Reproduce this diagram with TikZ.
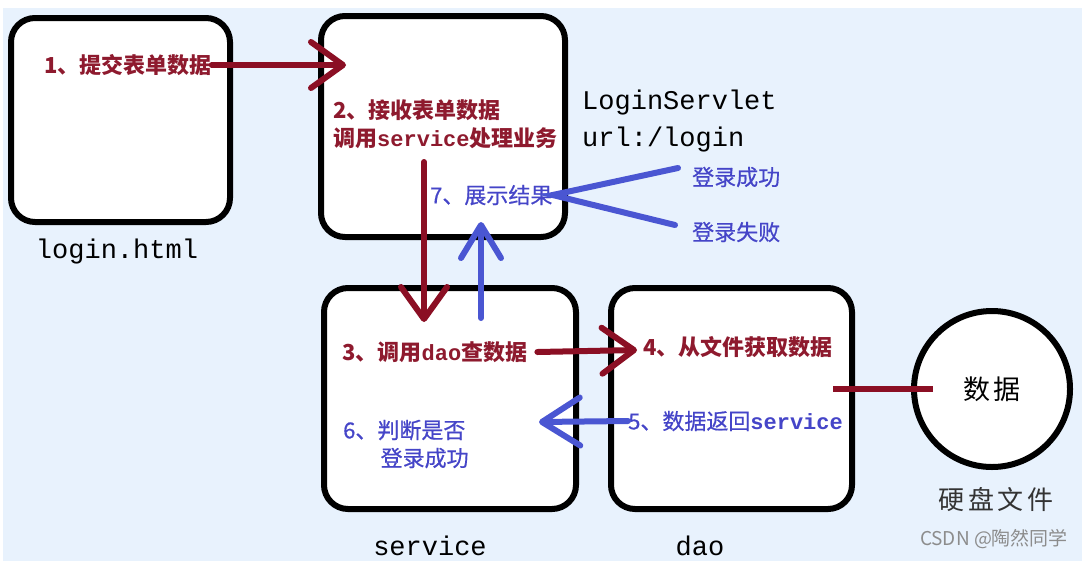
\documentclass[tikz,border=0pt]{standalone}
\usepackage{fontspec}
\setmainfont{Liberation Mono}
\newfontfamily\cjk{Noto Sans CJK SC}
\newfontfamily\monob{Liberation Mono}
\usetikzlibrary{arrows.meta}

\definecolor{flowred}{HTML}{8B0F24}
\definecolor{flowblue}{HTML}{4A56D2}
\definecolor{lblred}{HTML}{8E1A2E}
\definecolor{lblblue}{HTML}{4545C8}
\definecolor{bgblue}{HTML}{E8F2FD}

\tikzset{
  panel/.style={draw, line width=6pt, rounded corners=24pt, fill=white, inner sep=0pt},
  redlbl/.style={text=lblred, font=\cjk\bfseries\fontsize{22}{28}\selectfont, inner sep=0pt, anchor=west, align=left},
  bluelbl/.style={text=lblblue, font=\cjk\fontsize{22}{28}\selectfont\addfontfeature{FakeBold=0.6}, inner sep=0pt, anchor=west, align=left},
  caption/.style={font=\fontsize{27}{37}\selectfont, inner sep=0pt, align=left},
  redflow/.style={draw=flowred, line width=6pt, line cap=round, -{Straight Barb[length=32pt, width=46pt, round]}},
  blueflow/.style={draw=flowblue, line width=6pt, line cap=round, -{Straight Barb[length=33pt, width=40pt, round]}},
}

\begin{document}
\begin{tikzpicture}[x=1pt, y=-1pt]
    \useasboundingbox (0,0) rectangle (1089,574);
    \fill[bgblue] (3,8) rectangle (1082,561);

    % the four parts and the file on disk
    \node[panel, minimum width=219pt, minimum height=204pt] (page) at (120.5,120) {};
    \node[panel, minimum width=244pt, minimum height=221pt] (servlet) at (443,126.5) {};
    \node[panel, minimum width=252pt, minimum height=221pt] (service) at (450,398.5) {};
    \node[panel, minimum width=241pt, minimum height=221pt] (dao) at (731.5,398.5) {};
    \node[draw, line width=6pt, circle, fill=white, minimum size=156pt, inner sep=0pt,
          font=\cjk\fontsize{27}{30}\selectfont\addfontfeature{LetterSpace=10}] (disk) at (992,389) {数据};

    \node[caption] (pagename) at (117,252) {login.html};
    \node[caption, anchor=west] (servletname) at (582,121) {LoginServlet\\url:/login};
    \node[caption] (svcname) at (430,546) {service};
    \node[caption] (daoname) at (700,546) {dao};
    \node[font=\cjk\fontsize{26}{30}\selectfont\addfontfeature{LetterSpace=15}, text=black!80, inner sep=0pt] (diskname) at (996,500) {硬盘文件};
    \node[font=\cjk\fontsize{19}{21}\selectfont, text=black!45, inner sep=0pt] (mark) at (994,539) {CSDN @陶然同学};

    % steps
    \node[redlbl] (submit) at (44,65) {1、提交表单数据};
    \node[redlbl] (accept) at (333,124) {2、接收表单数据\\调用{\monob\bfseries service}处理业务};
    \node[bluelbl] (show) at (430,195) {7、展示结果};
    \node[bluelbl] (ok) at (692,177) {登录成功};
    \node[bluelbl] (fail) at (692,232) {登录失败};
    \node[redlbl] (query) at (342,352) {3、调用{\monob\bfseries dao}查数据};
    \node[redlbl] (fetch) at (643,347) {4、从文件获取数据};
    \node[bluelbl] (back) at (628,421) {5、数据返回{\monob\bfseries service}};
    \node[bluelbl] (judge) at (343,444) {6、判断是否\\\hspace*{1.7em}登录成功};

    \coordinate (recv) at (346,65);
    \coordinate (callTop) at (424,162);
    \coordinate (svcIn) at (424,322);
    \coordinate (retBot) at (481,318);
    \coordinate (showIn) at (481,222);
    \coordinate (okEnd) at (678,168);
    \coordinate (failEnd) at (675,225);
    \coordinate (daoIn) at (637,350);
    \coordinate (svcBack) at (539,422);
    \coordinate (readOut) at (833,389);
    \coordinate (diskIn) at (933,389);

    \draw[redflow] (submit.east) -- (recv);
    \draw[redflow] (callTop) -- (svcIn);
    \draw[blueflow] (retBot) -- (showIn);
    \draw[draw=flowblue, line width=6pt, line cap=round] (okEnd) -- (show.east) -- (failEnd);
    \draw[redflow] ([xshift=10pt]query.east) -- (daoIn);
    \draw[blueflow, -{Straight Barb[length=38pt, width=48pt, round]}] (back.west) -- (svcBack);
    \draw[draw=flowred, line width=6pt] (readOut) -- (diskIn);
\end{tikzpicture}
\end{document}
